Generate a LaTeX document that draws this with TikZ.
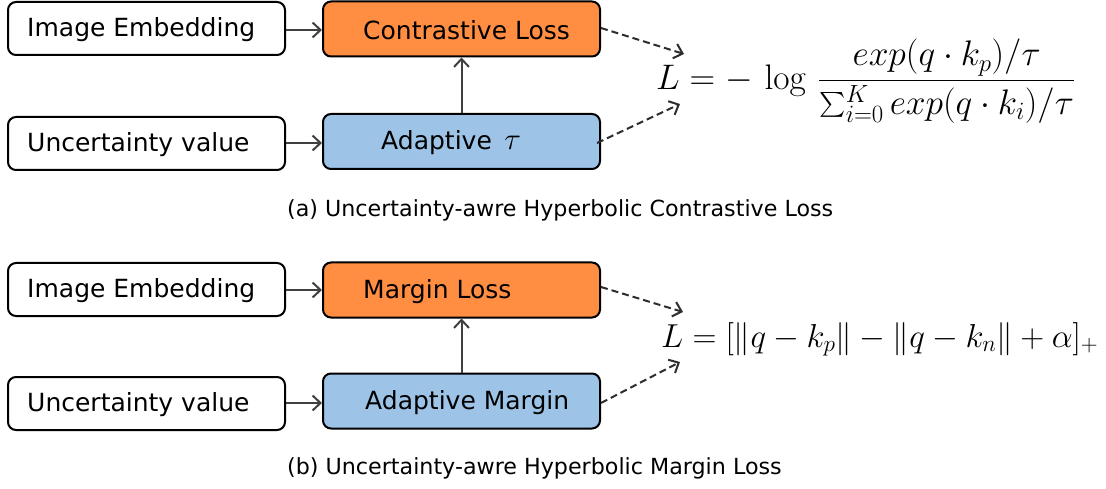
\RequirePackage{fix-cm}
\documentclass[tikz,border=0pt]{standalone}
\usepackage{amsmath}
\usepackage[no-math]{fontspec}
\newfontfamily\dvs{DejaVu Sans}
\usetikzlibrary{arrows.meta}
\definecolor{boxorange}{RGB}{255,141,66}
\definecolor{boxblue}{RGB}{157,195,230}
\definecolor{arrgray}{RGB}{64,64,64}
\definecolor{dashgray}{RGB}{45,45,45}
\begin{document}
\begin{tikzpicture}[x=1pt,y=-1pt,
  box/.style={draw=black, line width=2pt, rounded corners=8pt, inner sep=0pt, minimum width=277pt},
  inbox/.style={box, fill=white, minimum height=53pt},
  outbox/.style={box, minimum height=55pt},
  txt/.style={anchor=west, inner sep=0pt, font=\dvs\fontsize{25}{30}\selectfont},
  captxt/.style={anchor=west, inner sep=0pt, font=\dvs\fontsize{22.2}{26}\selectfont},
  arr/.style={draw=arrgray, line width=2pt, -{Straight Barb[length=8pt,width=15pt,line width=2pt]}},
  darr/.style={draw=dashgray, line width=2pt, dash pattern=on 7pt off 4pt, -{Straight Barb[length=8pt,width=15pt,line width=2pt]}},
  formula/.style={inner sep=0pt}
]
\useasboundingbox (0,0) rectangle (1106,489);

% ---------- (a) ----------
\node[inbox] (ie1) at (146.5,28.5) {};
\node[txt] (ie1t) at ([xshift=20pt,yshift=-1.5pt]ie1.west) {Image Embedding};
\node[outbox, fill=boxorange] (cl) at (461.5,29) {};
\node[txt] (clt) at ([xshift=41pt,yshift=-1.5pt]cl.west) {Contrastive Loss};
\node[inbox] (uv1) at (146.5,143.5) {};
\node[txt] (uv1t) at ([xshift=20pt,yshift=-1.5pt]uv1.west) {Uncertainty value};
\node[outbox, fill=boxblue] (at) at (461.5,141.5) {};
\node[txt] (att) at ([xshift=59pt,yshift=-1.5pt]at.west) {Adaptive\enspace{\fontsize{31}{36}\selectfont$\tau$}};

\draw[arr] (ie1.east |- 0,30) -- (cl.west |- 0,30);
\draw[arr] (uv1.east |- 0,143) -- (at.west |- 0,143);
\draw[arr] (at.north) -- (cl.south);

\coordinate (t1) at (684,54);
\coordinate (t2) at (680,104);
\draw[darr] (cl.east |- 0,28) -- (t1);
\draw[darr] ([xshift=-4pt]at.east |- 0,143) -- (t2);

\node[formula, anchor=west] (f1) at (656,81) {\fontsize{35.5}{42}\selectfont$\displaystyle L=-\,\log\,\frac{exp(q\cdot k_p)/\tau}{\sum_{i=0}^{K}exp(q\cdot k_i)/\tau}$};

\node[captxt] (capa) at (287,210) {(a) Uncertainty-awre Hyperbolic Contrastive Loss};

% ---------- (b) ----------
\node[inbox] (ie2) at (146.5,289.5) {};
\node[txt] (ie2t) at ([xshift=20pt,yshift=-1.5pt]ie2.west) {Image Embedding};
\node[outbox, fill=boxorange] (ml) at (461.5,290) {};
\node[txt] (mlt) at ([xshift=41pt,yshift=-1.5pt]ml.west) {Margin Loss};
\node[inbox] (uv2) at (146.5,403.5) {};
\node[txt] (uv2t) at ([xshift=20pt,yshift=-1.5pt]uv2.west) {Uncertainty value};
\node[outbox, fill=boxblue] (am) at (461.5,401) {};
\node[txt] (amt) at ([xshift=43pt,yshift=-1.5pt]am.west) {Adaptive Margin};

\draw[arr] (ie2.east |- 0,290) -- (ml.west |- 0,290);
\draw[arr] (uv2.east |- 0,403) -- (am.west |- 0,403);
\draw[arr] (am.north) -- (ml.south);

\coordinate (t3) at (683,312);
\coordinate (t4) at (680,362);
\draw[darr] (ml.east |- 0,287) -- (t3);
\draw[darr] (am.east |- 0,403) -- (t4);

\node[formula, anchor=base west] (f2) at (661,347) {\fontsize{33.2}{40}\selectfont$L=[\|q-k_p\|-\|q-k_n\|+\alpha]_+$};

\node[captxt] (capb) at (287,468) {(b) Uncertainty-awre Hyperbolic Margin Loss};
\end{tikzpicture}
\end{document}
